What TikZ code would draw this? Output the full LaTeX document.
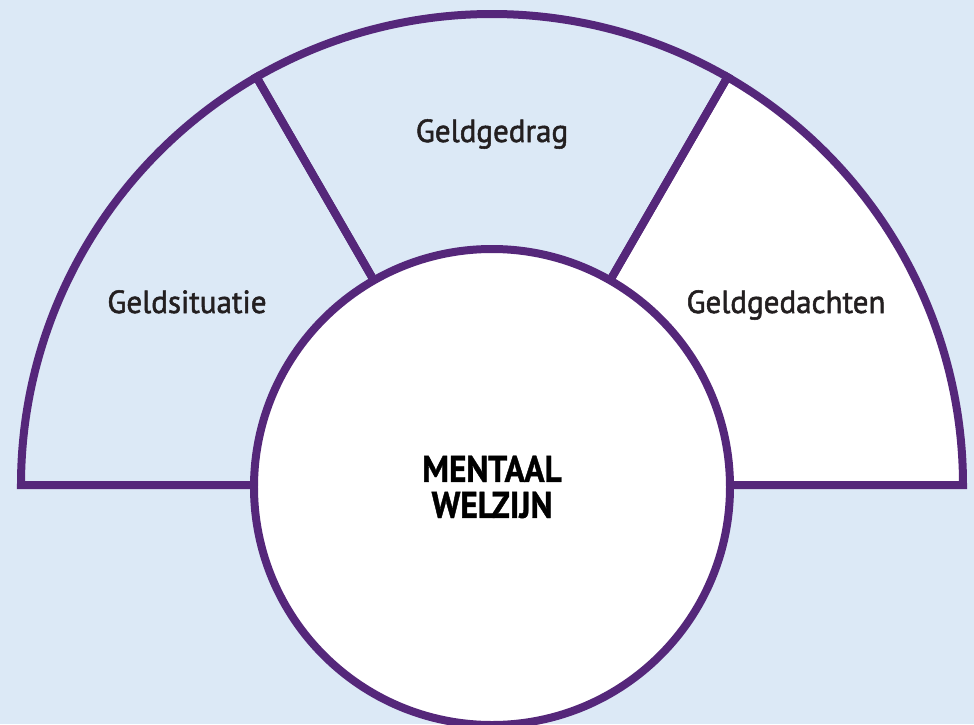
\documentclass[tikz,border=0pt]{standalone}
\usepackage{fontspec}
\setmainfont{PT Sans}
\newfontfamily\vakfont[FakeStretch=0.97,FakeBold=1.6]{PT Sans}
\newfontfamily\smalfont[FakeStretch=0.9,FakeBold=1]{PT Sans}
\usepackage{xcolor}
\usetikzlibrary{positioning}
\definecolor{achter}{HTML}{DCE9F6}
\definecolor{paars}{HTML}{55277A}
\definecolor{tekst}{HTML}{231F20}

\begin{document}
\begin{tikzpicture}[x=1pt,y=1pt]
\fill[achter] (-492,-239) rectangle (482,485);
\useasboundingbox (-492,-239) rectangle (482,485);
\tikzstyle{rand}=[draw=paars,line width=8pt]
\tikzstyle{vak}=[text=tekst,anchor=base,font=\vakfont\fontsize{32}{36}\selectfont]

% drie vakken van de halve cirkel
\draw[rand,fill=white] (0,0) -- (0:471) arc (0:60:471) -- cycle;
\draw[rand] (0,0) -- (60:471) arc (60:120:471) -- cycle;
\draw[rand] (0,0) -- (120:471) arc (120:180:471) -- cycle;

\node[circle,rand,fill=white,minimum size=476pt,inner sep=0pt,align=center,
  font=\smalfont\bfseries\fontsize{37}{36}\selectfont] (welzijn) at (0,-2) {MENTAAL\\WELZIJN};

\node[vak] (gedrag) at (0,343) {Geldgedrag};
\node[vak] (situatie) at (-305,172) {Geldsituatie};
\node[vak] (gedachten) at (294,172) {Geldgedachten};
\end{tikzpicture}
\end{document}
